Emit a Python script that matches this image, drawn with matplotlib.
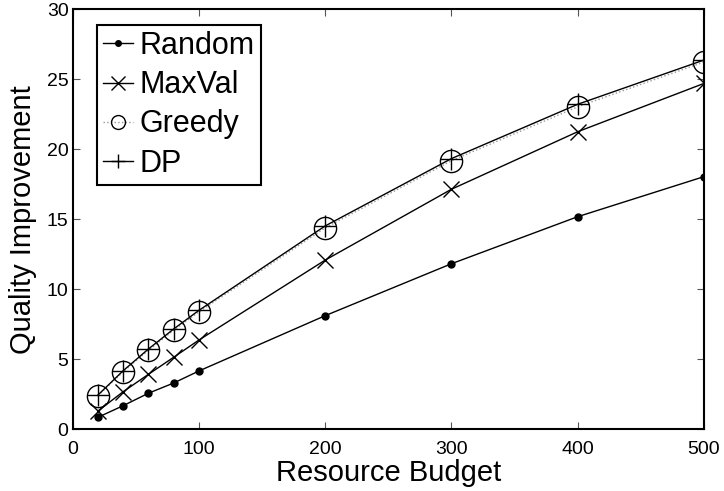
import matplotlib.pyplot as plt

plt.rcParams['font.family'] = ['Liberation Sans', 'DejaVu Sans']

budget = [20, 40, 60, 80, 100, 200, 300, 400, 500]
random_q = [0.87, 1.70, 2.59, 3.32, 4.18, 8.13, 11.84, 15.2, 18.06]
maxval_q = [1.32, 2.70, 3.94, 5.16, 6.39, 12.1, 17.16, 21.27, 24.72]
greedy_q = [2.42, 4.12, 5.66, 7.08, 8.40, 14.40, 19.20, 23.05, 26.25]
dp_q = [2.46, 4.20, 5.75, 7.18, 8.51, 14.54, 19.35, 23.23, 26.39]

fig = plt.figure(figsize=(7.24, 4.91), dpi=100)
ax = fig.add_axes([0.1004, 0.1253, 0.8720, 0.8554])

ax.plot(budget, random_q, color='black', lw=1, marker='o', ms=5, label='Random')
ax.plot(budget, maxval_q, color='black', lw=1, marker='x', ms=11, mew=1,
        label='MaxVal')
ax.plot(budget, greedy_q, color='#999999', lw=1, ls=':', marker='o', ms=16,
        mfc='none', mec='black', mew=1, label='Greedy')
ax.plot(budget, dp_q, color='black', lw=1, marker='+', ms=16, mew=1,
        label='DP')

ax.set_xlim(0, 500)
ax.set_ylim(0, 30)
ax.set_xticks([0, 100, 200, 300, 400, 500])
ax.set_yticks([0, 5, 10, 15, 20, 25, 30])
ax.tick_params(direction='in', top=True, right=True, length=5, width=0.8,
               labelsize=14, color='#555555')
ax.tick_params(axis='x', pad=8)
ax.tick_params(axis='y', pad=3)
for s in ax.spines.values():
    s.set_linewidth(1.5)

ax.set_xlabel('Resource Budget', fontsize=21, labelpad=1)
ax.set_ylabel('Quality Improvement', fontsize=21, labelpad=7)

leg = ax.legend(loc='upper left', bbox_to_anchor=(0.038, 0.963), fontsize=22,
                handlelength=1.0, handletextpad=0.2, labelspacing=0.3,
                borderpad=0.2, borderaxespad=0, fancybox=False,
                framealpha=1)
leg.get_frame().set_edgecolor('black')
leg.get_frame().set_linewidth(1.5)
# smaller markers inside the legend box
for h, size in zip(leg.legend_handles, [4, 9.5, 10, 10]):
    h.set_markersize(size)

fig.savefig('out.png', dpi=100)
